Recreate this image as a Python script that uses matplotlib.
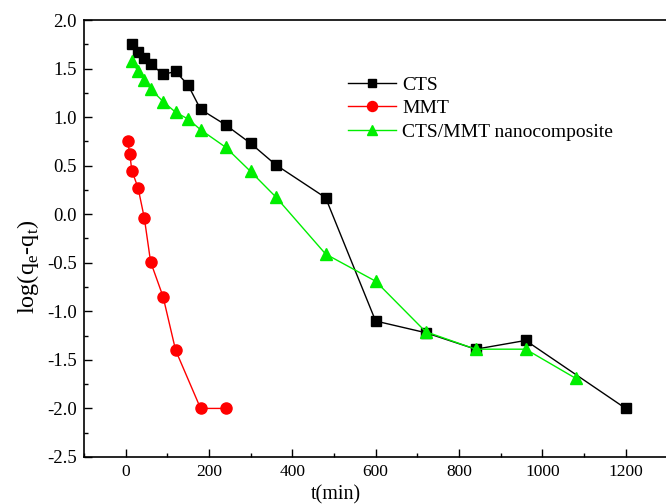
import matplotlib
matplotlib.use('Agg')
import matplotlib.pyplot as plt
from matplotlib.ticker import MultipleLocator

# CTS
t_cts = [15, 30, 45, 60, 90, 120, 150, 180, 240, 300, 360, 480, 600, 720, 840, 960, 1200]
y_cts = [1.75, 1.67, 1.61, 1.55, 1.44, 1.47, 1.33, 1.08, 0.92, 0.73, 0.51, 0.17,
         -1.10, -1.22, -1.39, -1.30, -2.00]

# MMT
t_mmt = [5, 10, 15, 30, 45, 60, 90, 120, 180, 240]
y_mmt = [0.75, 0.62, 0.45, 0.27, -0.04, -0.49, -0.85, -1.40, -2.00, -2.00]

# CTS/MMT nanocomposite
t_nc = [15, 30, 45, 60, 90, 120, 150, 180, 240, 300, 360, 480, 600, 720, 840, 960, 1080]
y_nc = [1.58, 1.47, 1.38, 1.29, 1.16, 1.05, 0.98, 0.87, 0.69, 0.44, 0.18, -0.41,
        -0.69, -1.21, -1.39, -1.39, -1.69]

plt.rcParams['font.family'] = ['Liberation Serif', 'DejaVu Serif']
plt.rcParams['mathtext.fontset'] = 'custom'
plt.rcParams['mathtext.rm'] = 'Liberation Serif'

fig = plt.figure(figsize=(6.66, 5.04), dpi=100)
ax = fig.add_axes([0.126, 0.0933, 0.876, 0.867])

ax.plot(t_cts, y_cts, color='black', marker='s', markersize=7, lw=1, label='CTS')
ax.plot(t_mmt, y_mmt, color='red', marker='o', markersize=8, lw=1, label='MMT')
ax.plot(t_nc, y_nc, color='#00ee00', marker='^', markersize=8, lw=1,
        label='CTS/MMT nanocomposite')

ax.set_xlim(-100, 1300)
ax.set_ylim(-2.5, 2.0)
ax.xaxis.set_major_locator(MultipleLocator(200))
ax.xaxis.set_minor_locator(MultipleLocator(100))
ax.yaxis.set_major_locator(MultipleLocator(0.5))
ax.yaxis.set_minor_locator(MultipleLocator(0.25))
ax.yaxis.set_major_formatter(matplotlib.ticker.FormatStrFormatter('%.1f'))
ax.tick_params(which='both', direction='in', top=False, right=False)
ax.tick_params(axis='x', labelsize=12.5, pad=5)
ax.tick_params(axis='y', labelsize=13.5, pad=5)
ax.tick_params(which='major', length=6, width=1)
ax.tick_params(which='minor', length=3, width=1)
for s in ax.spines.values():
    s.set_linewidth(1.2)

ax.set_xlabel('t(min)', fontsize=14.5, labelpad=0)
ax.xaxis.set_label_coords(0.432, -0.065)
ax.set_ylabel('log(q$_{\\rm e}$-q$_{\\rm t}$)', fontsize=17.5)
ax.yaxis.set_label_coords(-0.073, 0.435)

ax.legend(loc='upper left', bbox_to_anchor=(0.522, 0.849), bbox_transform=fig.transFigure,
          frameon=False, fontsize=14, handlelength=2.5, handletextpad=0.3,
          labelspacing=0.3, markerscale=0.9, borderaxespad=0, borderpad=0)

fig.savefig('out.png', dpi=100)
